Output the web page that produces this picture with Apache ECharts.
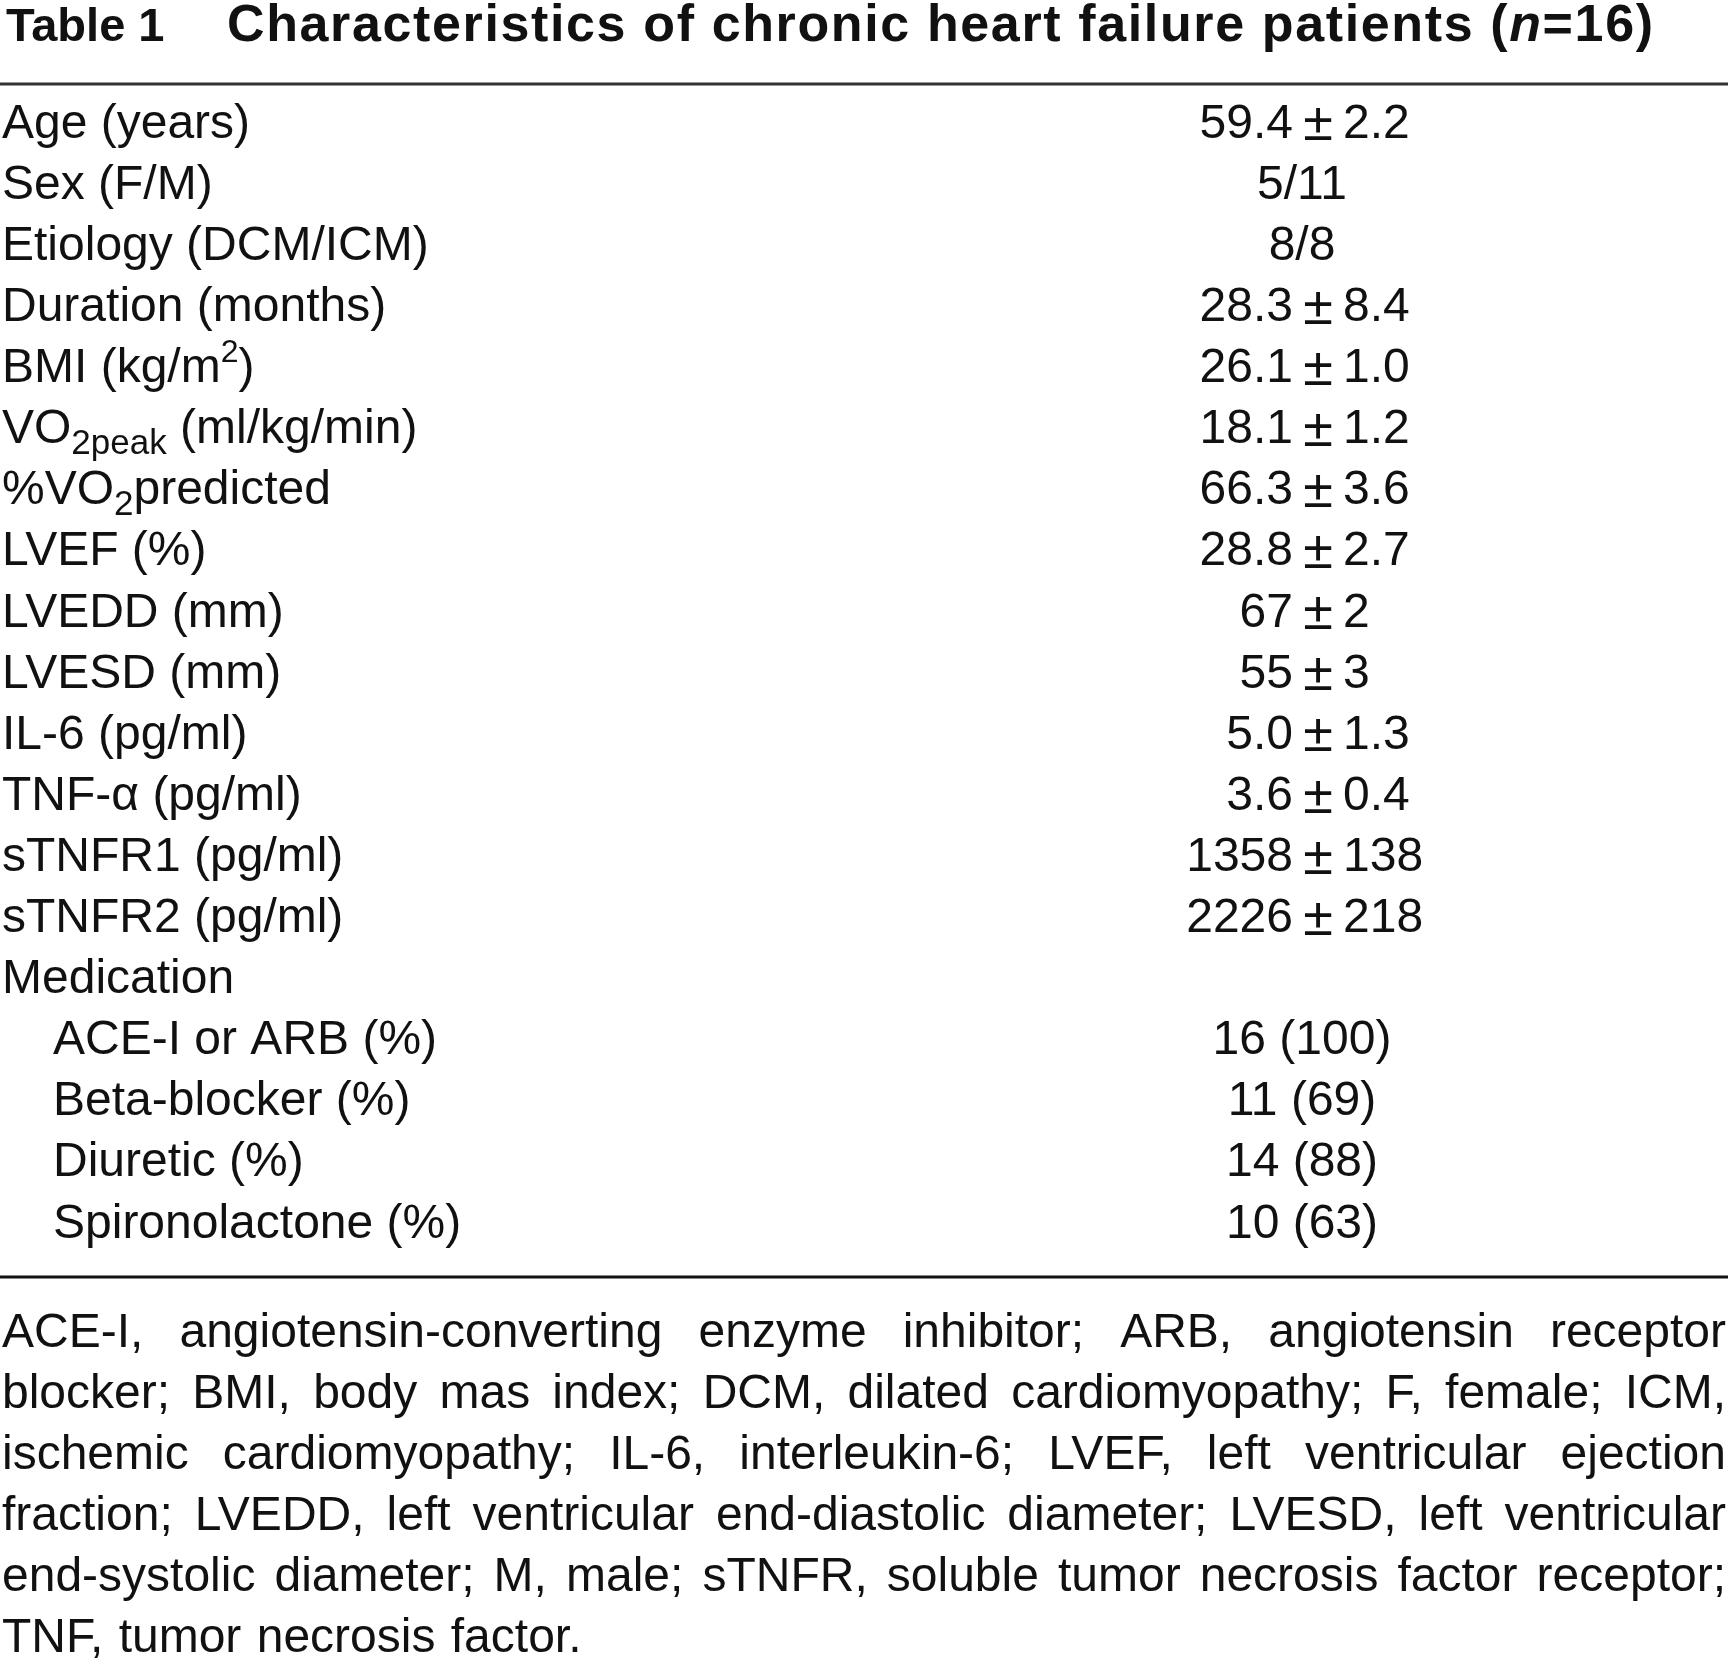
<!DOCTYPE html>
<html>
<head>
<meta charset="utf-8">
<title>Table 1</title>
<script src="https://cdn.jsdelivr.net/npm/echarts@6/dist/echarts.min.js"></script>
<style>
  html, body { margin: 0; padding: 0; background: #fff; }
  #main { width: 1728px; height: 1661px; }
</style>
</head>
<body>
<div id="main"></div>
<script>
(function () {
  // 1. data
  const tableNumber = 'Table 1';
  const titleParts = ['Characteristics of chronic heart failure patients (', 'n', '=16)'];
  const titleItalic = [false, true, false];

  const rowLabels = [
    'Age (years)',
    'Sex (F/M)',
    'Etiology (DCM/ICM)',
    'Duration (months)',
    'BMI (kg/m{sup|2})',
    'VO{sub|2peak} (ml/kg/min)',
    '%VO{sub|2}predicted',
    'LVEF (%)',
    'LVEDD (mm)',
    'LVESD (mm)',
    'IL-6 (pg/ml)',
    'TNF-α (pg/ml)',
    'sTNFR1 (pg/ml)',
    'sTNFR2 (pg/ml)',
    'Medication',
    'ACE-I or ARB (%)',
    'Beta-blocker (%)',
    'Diuretic (%)',
    'Spironolactone (%)'
  ];
  const rowIndent = [0, 0, 0, 0, 0, 0, 0, 0, 0, 0, 0, 0, 0, 0, 0, 1, 1, 1, 1];
  const rowValues = [
    '59.4±2.2',
    '5/11',
    '8/8',
    '28.3±8.4',
    '26.1±1.0',
    '18.1±1.2',
    '66.3±3.6',
    '28.8±2.7',
    '67±2',
    '55±3',
    '5.0±1.3',
    '3.6±0.4',
    '1358±138',
    '2226±218',
    '',
    '16 (100)',
    '11 (69)',
    '14 (88)',
    '10 (63)'
  ];

  const footnoteLines = [
    'ACE-I, angiotensin-converting enzyme inhibitor; ARB, angiotensin receptor',
    'blocker; BMI, body mas index; DCM, dilated cardiomyopathy; F, female; ICM,',
    'ischemic cardiomyopathy; IL-6, interleukin-6; LVEF, left ventricular ejection',
    'fraction; LVEDD, left ventricular end-diastolic diameter; LVESD, left ventricular',
    'end-systolic diameter; M, male; sTNFR, soluble tumor necrosis factor receptor;',
    'TNF, tumor necrosis factor.'
  ];

  // 2. layout / style
  const W = 1728, H = 1661;
  const FAMILY = '"Liberation Sans", Arial, Helvetica, sans-serif';
  const INK = '#111';
  const BODY_SIZE = 48;
  const ROW_TOP = 94, ROW_PITCH = 61.1;
  const PM_X = 1318;      // column of the ± sign
  const CENTER_X = 1302;  // column centre for plain values
  const FOOT_TOP = 1334, FOOT_PITCH = 61, FOOT_LEFT = 2, FOOT_RIGHT = 1726;

  const chartDom = document.getElementById('main');
  const myChart = echarts.init(chartDom, null, { renderer: 'canvas' });

  const ctx = document.createElement('canvas').getContext('2d');
  function textWidth(str, font) {
    ctx.font = font;
    return ctx.measureText(str).width;
  }
  function textEl(text, x, y, font, align) {
    return {
      type: 'text', silent: true,
      style: {
        text: text, x: x, y: y, font: font, fill: INK,
        align: align, textAlign: align,
        verticalAlign: 'middle', textVerticalAlign: 'middle'
      }
    };
  }

  // 3. title: letters tracked out between two edges
  const graphics = [];
  graphics.push(textEl(tableNumber, 6, 28, 'bold 47px ' + FAMILY, 'left'));
  (function () {
    const left = 227, right = 1653;
    const chars = [];
    titleParts.forEach((part, k) => {
      const font = (titleItalic[k] ? 'italic ' : '') + 'bold 52px ' + FAMILY;
      part.split('').forEach(c => chars.push({ c, font, w: textWidth(c, font) }));
    });
    const natural = chars.reduce((s, d) => s + d.w, 0);
    const track = (right - left - natural) / (chars.length - 1);
    let x = left;
    chars.forEach(d => {
      if (d.c !== ' ') graphics.push(textEl(d.c, x, 27, d.font, 'left'));
      x += d.w + track;
    });
  })();

  // rules
  graphics.push({ type: 'line', silent: true, shape: { x1: 0, y1: 84, x2: W, y2: 84 }, style: { stroke: '#333', lineWidth: 3 } });
  graphics.push({ type: 'line', silent: true, shape: { x1: 0, y1: 1277, x2: W, y2: 1277 }, style: { stroke: '#111', lineWidth: 3 } });

  // 4. footnote, justified except the last line
  const footFont = BODY_SIZE + 'px ' + FAMILY;
  footnoteLines.forEach((line, k) => {
    const y = FOOT_TOP + k * FOOT_PITCH;
    const words = line.split(' ');
    const widths = words.map(w => textWidth(w, footFont));
    const last = k === footnoteLines.length - 1;
    const gap = last ? textWidth(' ', footFont) + 2
      : (FOOT_RIGHT - FOOT_LEFT - widths.reduce((s, v) => s + v, 0)) / (words.length - 1);
    let x = FOOT_LEFT;
    words.forEach((w, i) => {
      graphics.push(textEl(w, x, y, footFont, 'left'));
      x += widths[i] + gap;
    });
  });

  // 5. table body: row names on a category axis, values through a custom series
  const gridBottom = H - (ROW_TOP + ROW_PITCH * rowLabels.length);

  myChart.setOption({
    animation: false,
    backgroundColor: '#fff',
    textStyle: { fontFamily: FAMILY },
    graphic: graphics,
    grid: { left: 0, right: 0, top: ROW_TOP, bottom: gridBottom, containLabel: false, outerBoundsMode: 'none' },
    xAxis: { type: 'value', min: 0, max: W, show: false },
    yAxis: {
      type: 'category',
      inverse: true,
      data: rowLabels,
      axisLine: { show: false },
      axisTick: { show: false },
      splitLine: { show: false },
      axisLabel: {
        interval: 0,
        align: 'left',
        margin: -2,
        color: INK,
        fontSize: BODY_SIZE,
        fontFamily: FAMILY,
        formatter: (value, idx) => rowIndent[idx] ? '{ind|}' + value : value,
        rich: {
          ind: { width: 51, fontSize: BODY_SIZE },
          sup: { fontSize: 32, padding: [0, 0, 32, 0], color: INK, fontFamily: FAMILY },
          sub: { fontSize: 35, padding: [28, 0, 0, 0], color: INK, fontFamily: FAMILY }
        }
      }
    },
    series: [{
      type: 'custom',
      silent: true,
      data: rowValues.map((v, i) => [0, i]),
      encode: { x: 0, y: 1 },
      renderItem: function (params, api) {
        const i = api.value(1);
        const txt = rowValues[i];
        if (!txt) return null;
        const font = BODY_SIZE + 'px ' + FAMILY;
        const y = api.coord([0, i])[1];
        const parts = txt.split('±');
        if (parts.length === 2) {
          const px = api.coord([PM_X, i])[0];
          return {
            type: 'group',
            children: [
              textEl(parts[0], px - 25, y, font, 'right'),
              textEl('±', px, y + 1, '54px ' + FAMILY, 'center'),
              textEl(parts[1], px + 25, y, font, 'left')
            ]
          };
        }
        return textEl(txt, api.coord([CENTER_X, i])[0], y, font, 'center');
      }
    }]
  });
})();
</script>
</body>
</html>
